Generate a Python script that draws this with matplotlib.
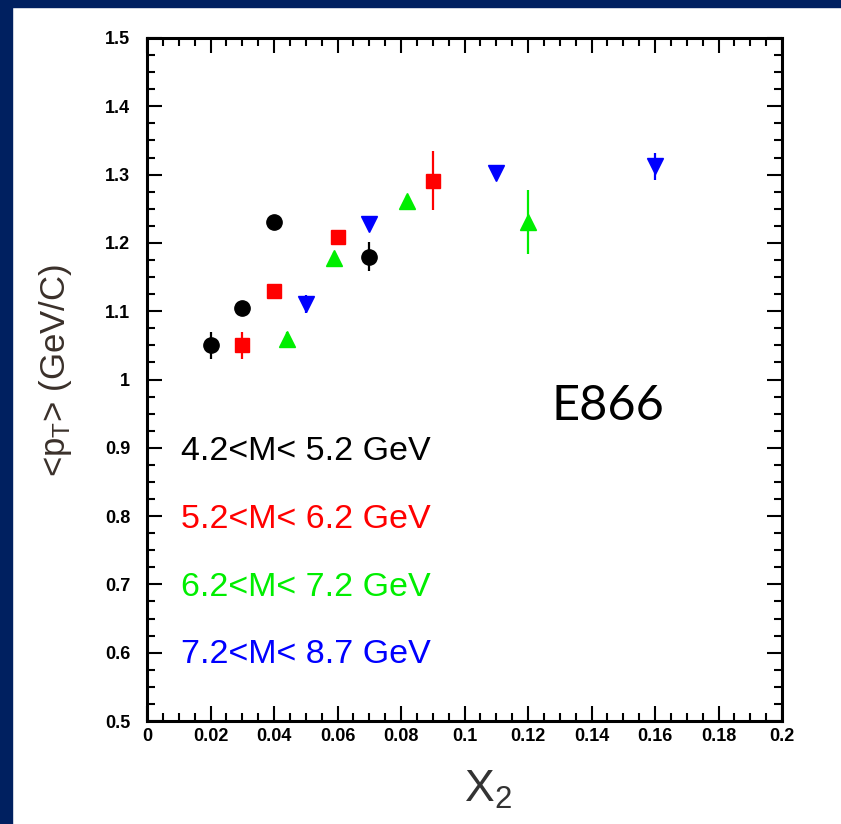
import matplotlib
matplotlib.use("Agg")
import matplotlib.pyplot as plt
from matplotlib.patches import Rectangle
from matplotlib.ticker import MultipleLocator, FormatStrFormatter

# <pT> vs x2 for four mass bins (E866)
x_m1 = [0.020, 0.030, 0.040, 0.070]
y_m1 = [1.050, 1.104, 1.230, 1.180]
e_m1 = [0.020, 0.008, 0.008, 0.021]

x_m2 = [0.030, 0.040, 0.060, 0.090]
y_m2 = [1.050, 1.130, 1.209, 1.291]
e_m2 = [0.020, 0.008, 0.008, 0.043]

x_m3 = [0.044, 0.059, 0.082, 0.120]
y_m3 = [1.059, 1.178, 1.262, 1.231]
e_m3 = [0.010, 0.008, 0.008, 0.047]

x_m4 = [0.050, 0.070, 0.110, 0.160]
y_m4 = [1.111, 1.228, 1.302, 1.312]
e_m4 = [0.013, 0.008, 0.008, 0.020]

labels = ["4.2<M< 5.2 GeV", "5.2<M< 6.2 GeV", "6.2<M< 7.2 GeV", "7.2<M< 8.7 GeV"]
label_y = [0.895, 0.795, 0.695, 0.597]
colors = ["black", "#ff0000", "#00ee00", "#0000ff"]
markers = ["o", "s", "^", "v"]
sizes = [11, 10, 11, 11]

plt.rcParams["font.family"] = ["Liberation Sans", "DejaVu Sans"]
plt.rcParams["mathtext.default"] = "regular"

fig = plt.figure(figsize=(8.41, 8.24), dpi=100)
fig.patch.set_facecolor("white")
# slide background strips
fig.patches.append(Rectangle((0, 1 - 7 / 824), 1, 7 / 824, transform=fig.transFigure,
                             color="#002060", zorder=0))
fig.patches.append(Rectangle((0, 0), 12 / 841, 1, transform=fig.transFigure,
                             color="#002060", zorder=0))

ax = fig.add_axes([147 / 841, 1 - 721 / 824, 635 / 841, 683 / 824])

series = [(x_m1, y_m1, e_m1), (x_m2, y_m2, e_m2), (x_m3, y_m3, e_m3), (x_m4, y_m4, e_m4)]
for (xs, ys, es), c, m, s in zip(series, colors, markers, sizes):
    ax.errorbar(xs, ys, yerr=es, fmt=m, color=c, ms=s, mec=c, elinewidth=1.6,
                capsize=0, zorder=3)

for lab, yy, c in zip(labels, label_y, colors):
    ax.text(0.0107, yy, lab, color=c, fontsize=24.5, va="center", ha="left")

ax.text(0.726, 0.461, "E866", transform=ax.transAxes, fontsize=35,
        family=["Lato", "DejaVu Sans"], ha="center", va="center")

ax.set_xlim(0, 0.2)
ax.set_ylim(0.5, 1.5)
ax.xaxis.set_major_locator(MultipleLocator(0.02))
ax.xaxis.set_minor_locator(MultipleLocator(0.005))
ax.yaxis.set_major_locator(MultipleLocator(0.1))
ax.yaxis.set_minor_locator(MultipleLocator(0.025))
ax.xaxis.set_major_formatter(FormatStrFormatter("%g"))
ax.yaxis.set_major_formatter(FormatStrFormatter("%g"))

ax.tick_params(which="both", direction="in", top=True, right=True, width=1.5)
ax.tick_params(which="major", length=11)
ax.tick_params(which="minor", length=6)
ax.tick_params(axis="x", pad=5, labelsize=13)
ax.tick_params(axis="y", pad=12, labelsize=13)
for lab in ax.get_xticklabels() + ax.get_yticklabels():
    lab.set_fontweight("bold")
for sp in ax.spines.values():
    sp.set_linewidth(2.2)

fig.text(55 / 841, 1 - 370 / 824, "<p$_T$> (GeV/C)", rotation=90, fontsize=25,
         color="#3a302a", ha="center", va="center")
fig.text(488 / 841, 1 - 790 / 824, "X$_2$", fontsize=32, color="#333333",
         ha="center", va="center")

fig.savefig("out.png", dpi=100, facecolor=fig.get_facecolor())
